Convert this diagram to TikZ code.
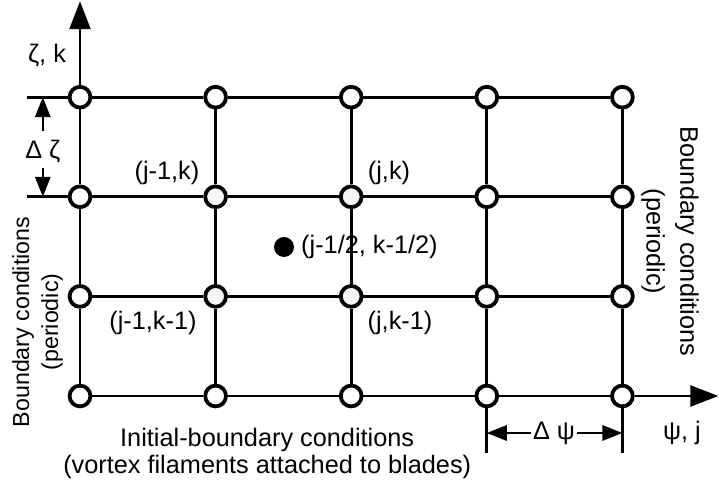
\documentclass[tikz,border=0pt]{standalone}
\usepackage{fontspec}
\setmainfont{Liberation Sans}
\usepackage{tikz}
\usetikzlibrary{arrows.meta, positioning}

\begin{document}
\begin{tikzpicture}[
  every node/.style={font=\fontsize{18}{20}\selectfont},
  gridline/.style={line width=2.1pt},
  pt/.style={circle, draw, line width=2.7pt, fill=white,
             minimum size=0.52cm, inner sep=0pt},
  axis/.style={gridline, -{Triangle[length=0.7cm,width=0.52cm]}},
  dim/.style={line width=1.8pt, -{Triangle[length=0.5cm,width=0.38cm]}},
]
  \useasboundingbox (-2,-2.325) rectangle (15.975,9.9);

  % grid points
  \foreach \i/\x in {0/0,1/3.39,2/6.78,3/10.17,4/13.56}
    \foreach \k/\y in {0/0,1/2.49,2/4.98,3/7.47}{
      \pgfmathtruncatemacro\shade{((\i>0)&&(\i<3)&&(\k>0)&&(\k<3)) ? 7 : 0}
      \node[pt, fill=gray!\shade!white] (p-\i-\k) at (\x,\y) {};
    }

  \foreach \i in {0,...,4}
    \foreach \k [count=\kk] in {0,1,2}
      \draw[gridline] (p-\i-\k) -- (p-\i-\kk);
  \foreach \k in {0,...,3}
    \foreach \i [count=\ii] in {0,1,2,3}
      \draw[gridline] (p-\i-\k) -- (p-\ii-\k);

  % axes
  \coordinate (ztip) at (0,9.87);
  \coordinate (ptip) at (15.96,0);
  \draw[axis] (p-0-3) -- (ztip);
  \draw[axis] (p-4-0) -- (ptip);
  \node (zk) at (-0.825,8.52) {ζ, k};
  \node (pj) at (15.05,-0.925) {ψ, j};

  % spacing in zeta
  \coordinate (ez3) at (-1.33,7.47);
  \coordinate (ez2) at (-1.33,4.98);
  \coordinate (az3) at (-0.93,7.47);
  \coordinate (az2) at (-0.93,4.98);
  \draw[gridline] (ez3) -- (p-0-3);
  \draw[gridline] (ez2) -- (p-0-2);
  \node (dz) at (-0.93,6.1) {Δ ζ};
  \draw[dim] ([yshift=0.12cm]dz.north) -- (az3);
  \draw[dim] (dz.south) -- (az2);

  % spacing in psi
  \coordinate (tp3) at (10.17,-1.425);
  \coordinate (tp4) at (13.56,-1.425);
  \coordinate (ap3) at (10.17,-0.925);
  \coordinate (ap4) at (13.56,-0.925);
  \draw[gridline] (p-3-0) -- (tp3);
  \draw[gridline] (p-4-0) -- (tp4);
  \node[inner sep=1pt] (dpsi) at (11.85,-0.925) {Δ ψ};
  \draw[dim] (dpsi) -- (ap3);
  \draw[dim] (dpsi) -- (ap4);

  % point labels
  \node (jm1k) at (2.175,5.575) {(j-1,k)};
  \node (jk) at (7.725,5.575) {(j,k)};
  \node (jm1km1) at (1.825,1.825) {(j-1,k-1)};
  \node (jkm1) at (8.0,1.825) {(j,k-1)};
  \node[circle, fill, minimum size=0.5cm, inner sep=0pt] (half) at (5.1,3.725) {};
  \node[right=0.05cm of half] (halflbl) {(j-1/2, k-1/2)};

  % boundary conditions
  \node[rotate=90, align=center, font=\fontsize{16.5}{20.6}\selectfont]
    (bcl) at (-1.06,1.85) {Boundary conditions\\(periodic)};
  \node[rotate=-90, align=center, font=\fontsize{18}{24}\selectfont]
    (bcr) at (14.75,3.86) {Boundary conditions\\(periodic)};
  \node[align=center, font=\fontsize{18}{19.2}\selectfont]
    (ibc) at (4.68,-1.44) {Initial-boundary conditions\\(vortex filaments attached to blades)};
\end{tikzpicture}
\end{document}
